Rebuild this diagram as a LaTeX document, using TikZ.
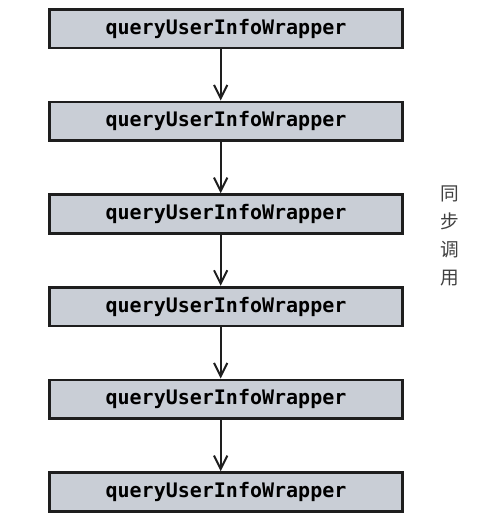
\documentclass[tikz,border=0pt]{standalone}
\usepackage{fontspec}
\setmonofont{DejaVu Sans Mono}
\newfontfamily\cjkfont{Noto Sans CJK SC}
\usetikzlibrary{positioning}
\usetikzlibrary{arrows.meta}
\definecolor{boxfill}{RGB}{201,206,214}
\definecolor{boxline}{RGB}{30,30,30}

\begin{document}
\begin{tikzpicture}[x=0.75pt,y=-0.75pt,
  callbox/.style={draw=boxline, fill=boxfill, line width=2pt, minimum width=265pt, minimum height=29pt, inner sep=0pt, font=\ttfamily\bfseries\fontsize{15}{18}\selectfont},
  callarrow/.style={draw=boxline, line width=1.5pt, -{Straight Barb[length=10pt,width=10pt]}}]
\useasboundingbox (0,0) rectangle (476,521);
\node[callbox] (q1) at (226,28.5) {queryUserInfoWrapper};
\node[callbox, below=38.5pt of q1] (q2) {queryUserInfoWrapper};
\node[callbox, below=38.5pt of q2] (q3) {queryUserInfoWrapper};
\node[callbox, below=38.5pt of q3] (q4) {queryUserInfoWrapper};
\node[callbox, below=38.5pt of q4] (q5) {queryUserInfoWrapper};
\node[callbox, below=38.5pt of q5] (q6) {queryUserInfoWrapper};
% synchronous calls, top to bottom
\foreach \a/\b in {q1/q2, q2/q3, q3/q4, q4/q5, q5/q6}
  \draw[callarrow] ([xshift=-4pt]\a.south) -- ([xshift=-4pt]\b.north);
\node[font=\cjkfont\fontsize{14}{21}\selectfont, text=boxline!85, align=center] (sync) at (450,236) {同\\步\\调\\用};
\end{tikzpicture}
\end{document}
